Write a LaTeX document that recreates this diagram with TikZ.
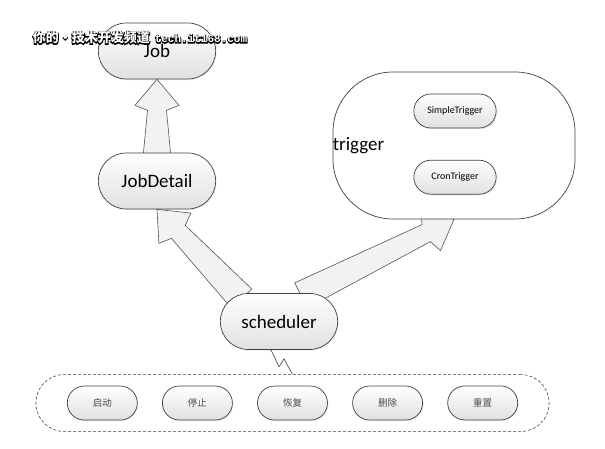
\documentclass[tikz,border=0pt]{standalone}
\usepackage{fontspec}
\setmainfont{Carlito}
\newfontfamily\cjk{Noto Sans CJK SC}
\newfontfamily\wmmono{Liberation Mono}
\usetikzlibrary{positioning,matrix,backgrounds,calc,shapes.misc,shadows}
\definecolor{edge}{rgb}{0.25,0.25,0.25}
\definecolor{arrowfill}{rgb}{0.95,0.95,0.95}

% fat block arrow from #1 (tail) to #2 (tip)
\newcommand{\fatarrow}[2]{%
  \coordinate (neck) at ($(#2)!31pt!(#1)$);
  \coordinate (barb) at ($(#2)!26pt!(#1)$);
  \draw[fat] ($(#1)!14pt!90:(#2)$) -- ($(neck)!9.5pt!90:(#2)$)
    -- ($(barb)!22pt!90:(#2)$) -- (#2) -- ($(barb)!22pt!-90:(#2)$)
    -- ($(neck)!9.5pt!-90:(#2)$) -- ($(#1)!14pt!-90:(#2)$) -- cycle;
}
% white text with a black outline
\newcommand{\outlined}[1]{%
  \rlap{\special{pdf:literal direct 0 G 1 Tr 1.6 w}#1\special{pdf:literal direct 0 Tr}}%
  {\color{white}#1}}

\begin{document}
\begin{tikzpicture}[x=1pt,y=-1pt,
    pill/.style={rounded rectangle, draw=edge, line width=0.7pt,
      top color=white, bottom color=black!12,
      drop shadow={shadow xshift=1pt, shadow yshift=-1.2pt, opacity=0.15}},
    big/.style={pill, minimum width=124pt, minimum height=56pt,
      font=\fontsize{19}{22}\selectfont},
    small/.style={pill, minimum width=89pt, minimum height=34pt,
      font=\fontsize{10}{12}\selectfont},
    fat/.style={draw=edge!90, line width=0.6pt, fill=arrowfill, line join=miter},
    link/.style={draw=edge, line width=0.6pt},
    ops/.style={matrix of nodes, draw=edge, line width=0.6pt,
      dash pattern=on 3pt off 2pt, rounded corners=28pt,
      inner xsep=31pt, inner ysep=11pt, column sep=24.4pt,
      nodes={pill, solid, sharp corners, inner sep=2pt,
        minimum width=74pt, minimum height=34pt, text=black!70,
        font=\cjk\fontsize{9.5}{11}\selectfont}}]
  \useasboundingbox (0,0) rectangle (605,449);

  \node[big] (job) at (157,51) {Job};
  \node[big] (jd) at (157,181) {JobDetail};
  \node[big] (sched) at (279,321.5) {scheduler};

  % trigger group
  \node[draw=edge, line width=0.7pt, fill=white, rounded corners=60pt,
    minimum width=242pt, minimum height=147pt] (trig) at (454,145.5) {};
  \node[anchor=west, inner sep=0pt, font=\fontsize{19}{22}\selectfont]
    (triglabel) at (trig.west) {trigger};
  \node[small] (simple) at (455,111) {SimpleTrigger};
  \node[small, below=31.5pt of simple] (cron) {CronTrigger};

  % operations
  \matrix[ops] (ops) at (292.5,403) {
    启动 & 停止 & 恢复 & 删除 & 重置 \\
  };

  \begin{scope}[on background layer]
    \coordinate (jdtail) at ($(jd.north)!-5pt!(job.south)$);
    \fatarrow{jdtail}{job.south}
    \coordinate (schedtail1) at ($(sched.147)!-5pt!(jd.south)$);
    \fatarrow{schedtail1}{jd.south}
    \coordinate (schedtail2) at ($(sched.47)!-5pt!(trig.south)$);
    \fatarrow{schedtail2}{trig.south}
  \end{scope}

  \draw[link] ([xshift=-8pt]sched.south) -- ++(8,17) -- ++(5,-8) -- (ops.north);

  % watermark
  \node[inner sep=0pt] (mark) at (140,38)
    {\outlined{\cjk\bfseries\fontsize{13}{15}\selectfont 你的・技术开发频道}\hspace{5pt}%
     \outlined{\wmmono\bfseries\fontsize{11}{13}\selectfont tech.it168.com}};
\end{tikzpicture}
\end{document}
